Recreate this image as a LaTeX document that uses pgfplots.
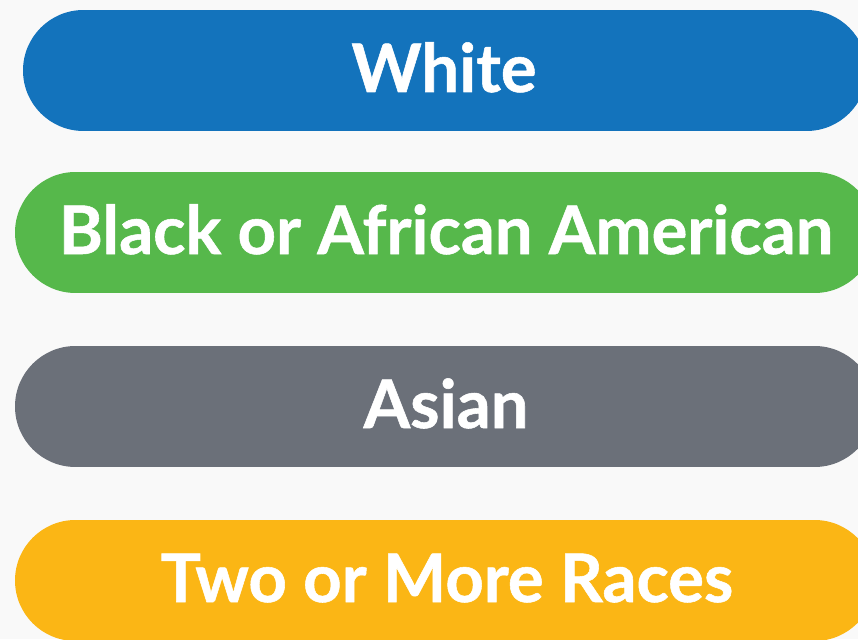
\documentclass[border=0pt]{standalone}
\usepackage{pgfplots}
\pgfplotsset{compat=1.18}
\usepackage{fontspec}
\setmainfont{Lato}[BoldFeatures={FakeBold=0.8}]
\definecolor{pillblue}{HTML}{1373BC}
\definecolor{pillgreen}{HTML}{56B84B}
\definecolor{pillgray}{HTML}{6B7079}
\definecolor{pillyellow}{HTML}{FBB615}
\definecolor{bg}{HTML}{F9F9F9}
\begin{document}
\begin{tikzpicture}
\begin{axis}[
  scale only axis, width=858pt, height=639pt,
  xmin=0, xmax=858, ymin=0, ymax=639, y dir=reverse,
  hide axis, clip=true,
  axis background/.style={fill=bg},
]
\fill[bg] (axis cs:0,0) rectangle (axis cs:858,639);
\addplot[pillblue, line width=121pt, line cap=round] coordinates {(83.5,70.5) (806.5,70.5)};
\addplot[pillgreen, line width=121pt, line cap=round] coordinates {(75.5,232.5) (814.5,232.5)};
\addplot[pillgray, line width=121pt, line cap=round] coordinates {(75.5,406.5) (814.5,406.5)};
\addplot[pillyellow, line width=121pt, line cap=round] coordinates {(75.5,580.5) (814.5,580.5)};
\addplot[draw=none, mark=none, nodes near coords, point meta=explicit symbolic,
  every node near coord/.style={anchor=base, text=white, inner sep=0pt,
    font=\fontsize{67}{80}\selectfont\bfseries}]
  coordinates {(444,92)[White] (446,254)[Black or African American] (446,428)[Asian] (447,602)[Two or More Races]};
\end{axis}
\pgfresetboundingbox
\path[use as bounding box] (current axis.south west) rectangle (current axis.north east);
\end{tikzpicture}
\end{document}
